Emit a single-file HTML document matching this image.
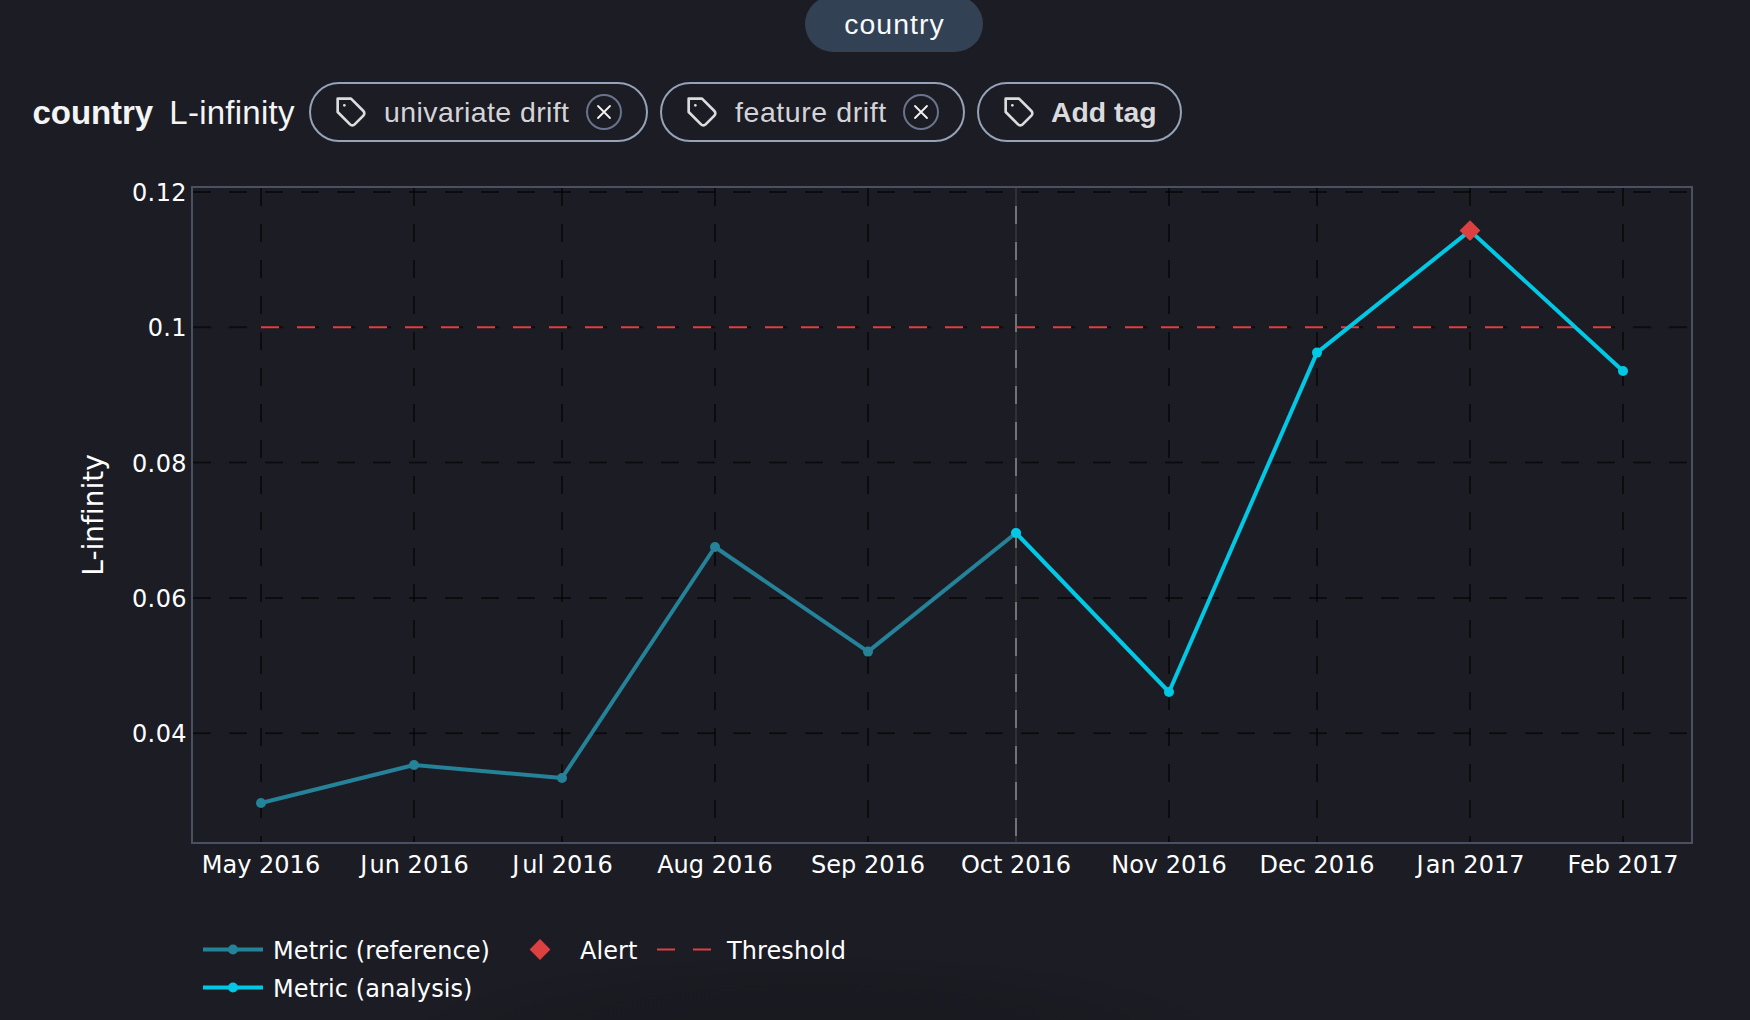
<!DOCTYPE html>
<html lang="en"><head><meta charset="utf-8"><title>country L-infinity</title>
<style>
html,body{margin:0;padding:0;background:#1c1c24;}
body{width:1750px;height:1020px;overflow:hidden;position:relative;font-family:"Liberation Sans",Arial,sans-serif;color:#f4f4f5;font-variant-ligatures:none;font-feature-settings:'liga' 0,'clig' 0;}
.top{position:absolute;left:805px;top:-4px;width:178px;height:56px;border-radius:28px;background:#334155;color:#f8fafc;font-size:28.4px;letter-spacing:1.05px;text-indent:1px;line-height:56px;text-align:center;}
.h{position:absolute;top:0;white-space:nowrap;}
.h1{left:32.6px;top:92.6px;font-size:33px;line-height:40px;font-weight:700;letter-spacing:-0.08px;}
.h2{left:169.3px;top:93px;font-size:33px;line-height:40px;font-weight:400;letter-spacing:0.25px;}
.pill{position:absolute;top:82px;height:60px;box-sizing:border-box;border:2px solid #94a3b8;border-radius:30px;color:#d4d4d8;font-size:28.5px;letter-spacing:0.4px;white-space:nowrap;}
.pill .ic{position:absolute;left:23.9px;top:11.7px;}
.pill .tx{position:absolute;left:73px;top:0;line-height:56px;}
.pill .xb{position:absolute;right:24px;top:10px;width:32px;height:32px;border:2px solid #6a738c;border-radius:50%;}
.pill .xb svg{position:absolute;left:4px;top:4px;}
.pill b{font-size:28.4px;color:#dbdbde;letter-spacing:0;position:relative;left:-1px;top:-0.3px;}
</style></head><body>
<div style="position:absolute;left:0;top:900px;width:1750px;height:120px;background:radial-gradient(ellipse 430px 85px at 815px 135px, rgba(0,0,0,0.11) 0%, rgba(0,0,0,0.09) 60%, rgba(0,0,0,0) 100%)"></div>
<div class="top">country</div>
<div class="h h1">country</div>
<div class="h h2">L-infinity</div>
<div class="pill" style="left:309px;width:339px"><svg class="ic" viewBox="0 0 24 24" width="32" height="32" fill="none" stroke="#dcdcde" stroke-width="2" stroke-linecap="round" stroke-linejoin="round"><path d="M12 2H2v10l9.29 9.29c.94.94 2.48.94 3.42 0l6.58-6.58c.94-.94.94-2.48 0-3.42L12 2Z"/><path d="M7 7h.01"/></svg><span class="tx">univariate drift</span><span class="xb"><svg viewBox="0 0 24 24" width="24" height="24" fill="none" stroke="#f4f4f5" stroke-width="1.8" stroke-linecap="round"><path d="M6 6l12 12M18 6L6 18"/></svg></span></div>
<div class="pill" style="left:660px;width:305px"><svg class="ic" viewBox="0 0 24 24" width="32" height="32" fill="none" stroke="#dcdcde" stroke-width="2" stroke-linecap="round" stroke-linejoin="round"><path d="M12 2H2v10l9.29 9.29c.94.94 2.48.94 3.42 0l6.58-6.58c.94-.94.94-2.48 0-3.42L12 2Z"/><path d="M7 7h.01"/></svg><span class="tx" style="letter-spacing:0.58px">feature drift</span><span class="xb"><svg viewBox="0 0 24 24" width="24" height="24" fill="none" stroke="#f4f4f5" stroke-width="1.8" stroke-linecap="round"><path d="M6 6l12 12M18 6L6 18"/></svg></span></div>
<div class="pill" style="left:977px;width:205px"><svg class="ic" viewBox="0 0 24 24" width="32" height="32" fill="none" stroke="#dcdcde" stroke-width="2" stroke-linecap="round" stroke-linejoin="round"><path d="M12 2H2v10l9.29 9.29c.94.94 2.48.94 3.42 0l6.58-6.58c.94-.94.94-2.48 0-3.42L12 2Z"/><path d="M7 7h.01"/></svg><span class="tx"><b>Add tag</b></span></div>
<svg width="1750" height="1020" viewBox="0 0 1750 1020" style="position:absolute;left:0;top:0" font-family="'DejaVu Sans', Verdana, sans-serif" fill="#ffffff" style="font-variant-ligatures:none"><path d="M1016.0,188V842" stroke="#737373" stroke-width="2" fill="none"/><path d="M261.0,188V842" stroke="rgba(0,0,0,0.57)" stroke-width="2" stroke-dasharray="18,18" fill="none"/><path d="M414.0,188V842" stroke="rgba(0,0,0,0.57)" stroke-width="2" stroke-dasharray="18,18" fill="none"/><path d="M562.0,188V842" stroke="rgba(0,0,0,0.57)" stroke-width="2" stroke-dasharray="18,18" fill="none"/><path d="M715.0,188V842" stroke="rgba(0,0,0,0.57)" stroke-width="2" stroke-dasharray="18,18" fill="none"/><path d="M868.0,188V842" stroke="rgba(0,0,0,0.57)" stroke-width="2" stroke-dasharray="18,18" fill="none"/><path d="M1016.0,188V842" stroke="rgba(0,0,0,0.57)" stroke-width="2" stroke-dasharray="18,18" fill="none"/><path d="M1169.0,188V842" stroke="rgba(0,0,0,0.57)" stroke-width="2" stroke-dasharray="18,18" fill="none"/><path d="M1317.0,188V842" stroke="rgba(0,0,0,0.57)" stroke-width="2" stroke-dasharray="18,18" fill="none"/><path d="M1470.0,188V842" stroke="rgba(0,0,0,0.57)" stroke-width="2" stroke-dasharray="18,18" fill="none"/><path d="M1623.0,188V842" stroke="rgba(0,0,0,0.57)" stroke-width="2" stroke-dasharray="18,18" fill="none"/><path d="M193,192.0H1691" stroke="rgba(0,0,0,0.57)" stroke-width="2" stroke-dasharray="18,18" fill="none"/><path d="M193,327.3H1691" stroke="rgba(0,0,0,0.57)" stroke-width="2" stroke-dasharray="18,18" fill="none"/><path d="M193,462.6H1691" stroke="rgba(0,0,0,0.57)" stroke-width="2" stroke-dasharray="18,18" fill="none"/><path d="M193,597.9H1691" stroke="rgba(0,0,0,0.57)" stroke-width="2" stroke-dasharray="18,18" fill="none"/><path d="M193,733.2H1691" stroke="rgba(0,0,0,0.57)" stroke-width="2" stroke-dasharray="18,18" fill="none"/><path d="M261.0,327.3H1611" stroke="#dd4040" stroke-width="2" stroke-dasharray="18,18" fill="none"/><path d="M261.0,803.0L414.0,765.0L562.0,778.0L715.0,547.0L868.0,651.6L1016.0,533.0" stroke="#248299" stroke-width="4" fill="none" stroke-linejoin="round"/><circle cx="261.0" cy="803.0" r="5" fill="#248299"/><circle cx="414.0" cy="765.0" r="5" fill="#248299"/><circle cx="562.0" cy="778.0" r="5" fill="#248299"/><circle cx="715.0" cy="547.0" r="5" fill="#248299"/><circle cx="868.0" cy="651.6" r="5" fill="#248299"/><circle cx="1016.0" cy="533.0" r="5" fill="#248299"/><path d="M1016.0,533.0L1169.0,692.0L1317.0,352.6L1470.0,230.6L1623.0,371.0" stroke="#00c8e5" stroke-width="4" fill="none" stroke-linejoin="round"/><circle cx="1016.0" cy="533.0" r="5" fill="#00c8e5"/><circle cx="1169.0" cy="692.0" r="5" fill="#00c8e5"/><circle cx="1317.0" cy="352.6" r="5" fill="#00c8e5"/><circle cx="1470.0" cy="230.6" r="5" fill="#00c8e5"/><circle cx="1623.0" cy="371.0" r="5" fill="#00c8e5"/><path d="M1480.4,230.6L1470.0,241.0L1459.6,230.6L1470.0,220.2Z" fill="#dd4040"/><rect x="192" y="187" width="1500" height="656" fill="none" stroke="#4b5060" stroke-width="2"/><text x="187" y="201.0" text-anchor="end" font-size="24" letter-spacing="0.4">0.12</text><text x="187" y="336.3" text-anchor="end" font-size="24" letter-spacing="0.4">0.1</text><text x="187" y="471.6" text-anchor="end" font-size="24" letter-spacing="0.4">0.08</text><text x="187" y="606.9" text-anchor="end" font-size="24" letter-spacing="0.4">0.06</text><text x="187" y="742.2" text-anchor="end" font-size="24" letter-spacing="0.4">0.04</text><text x="261.0" y="873" text-anchor="middle" font-size="24">May 2016</text><text x="414.5" y="873" text-anchor="middle" font-size="24">J<tspan dx="2.2">un 2016</tspan></text><text x="562.5" y="873" text-anchor="middle" font-size="24">J<tspan dx="3">ul 2016</tspan></text><text x="715.0" y="873" text-anchor="middle" font-size="24">Aug 2016</text><text x="868.0" y="873" text-anchor="middle" font-size="24">Sep 2016</text><text x="1016.0" y="873" text-anchor="middle" font-size="24">Oct 2016</text><text x="1169.0" y="873" text-anchor="middle" font-size="24">Nov 2016</text><text x="1317.0" y="873" text-anchor="middle" font-size="24">Dec 2016</text><text x="1470.5" y="873" text-anchor="middle" font-size="24">J<tspan dx="2.2">an 2017</tspan></text><text x="1623.0" y="873" text-anchor="middle" font-size="24">Feb 2017</text><text transform="translate(102.5,515) rotate(-90)" text-anchor="middle" font-size="28">L-infinity</text><path d="M203,949.5H263" stroke="#248299" stroke-width="4" fill="none"/><circle cx="233" cy="949.5" r="5" fill="#248299"/><text x="273" y="959" font-size="24" letter-spacing="0.08">Metric (reference)</text><path d="M203,987.5H263" stroke="#00c8e5" stroke-width="4" fill="none"/><circle cx="233" cy="987.5" r="5" fill="#00c8e5"/><text x="273" y="997" font-size="24" letter-spacing="0.08">Metric (analysis)</text><path d="M550.4,949.5L540,959.9L529.6,949.5L540,939.1Z" fill="#dd4040"/><text x="580" y="959" font-size="24" letter-spacing="0.08">Alert</text><path d="M657,949.5H717" stroke="#dd4040" stroke-width="2" stroke-dasharray="18,18" fill="none"/><text x="727" y="959" font-size="24" letter-spacing="0.08">Threshold</text></svg>
</body></html>
